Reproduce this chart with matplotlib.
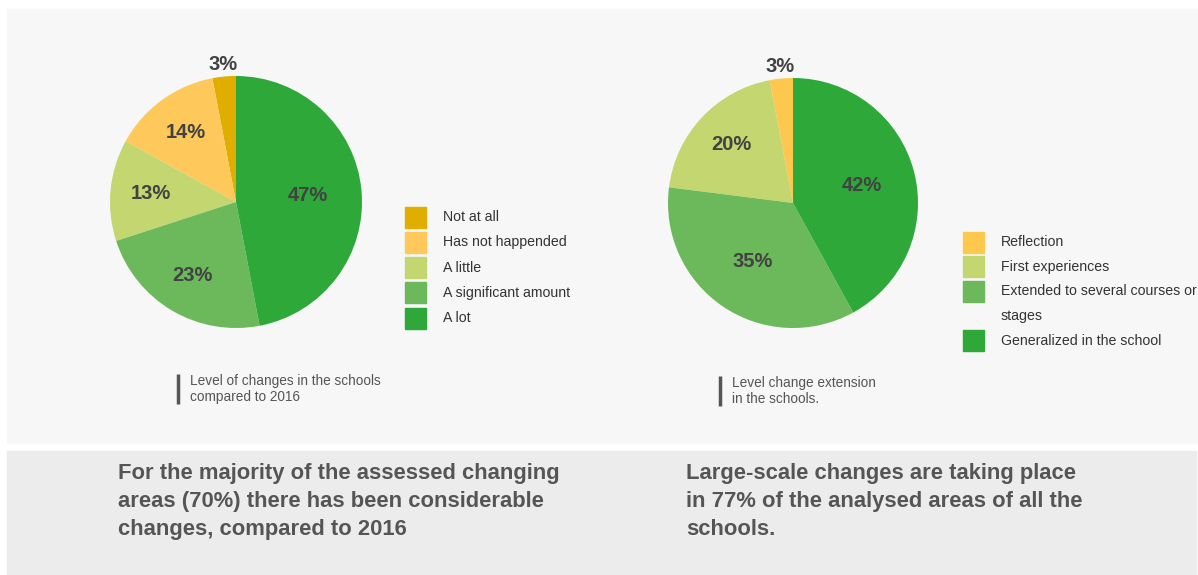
import matplotlib.pyplot as plt
from matplotlib.patches import Rectangle

plt.rcParams['font.family'] = ['Liberation Sans', 'DejaVu Sans']

# data
labels1 = ['Not at all', 'Has not happended', 'A little', 'A significant amount', 'A lot']
values1 = [3, 14, 13, 23, 47]
colors1 = ['#dfae00', '#fec85a', '#c3d66f', '#6cb95c', '#2fa83a']

labels2 = ['Reflection', 'First experiences', 'Extended to several courses or\nstages',
           'Generalized in the school']
values2 = [3, 20, 35, 42]
colors2 = ['#fec84e', '#c3d66f', '#6cb95c', '#2fa83a']

caption1 = 'Level of changes in the schools\ncompared to 2016'
caption2 = 'Level change extension\nin the schools.'
note1 = ('For the majority of the assessed changing\n'
         'areas (70%) there has been considerable\n'
         'changes, compared to 2016')
note2 = ('Large-scale changes are taking place\n'
         'in 77% of the analysed areas of all the\n'
         'schools.')

W, H = 1198, 575
fig = plt.figure(figsize=(W / 100, H / 100), dpi=100)
fig.patch.set_facecolor('white')

bg = fig.add_axes([0, 0, 1, 1])
bg.set_xlim(0, W)
bg.set_ylim(H, 0)
bg.axis('off')
bg.add_patch(Rectangle((7, 9), W - 7, 434, color='#f7f7f7', zorder=0))
bg.add_patch(Rectangle((7, 451), W - 9, H - 451, color='#ececec', zorder=0))

PD = 0.68


def draw_pie(cx, cy, r, values, colors):
    ax = fig.add_axes([(cx - r) / W, 1 - (cy + r) / H, 2 * r / W, 2 * r / H])
    wedges, texts, autotexts = ax.pie(values, colors=colors, startangle=90, counterclock=True,
                                      autopct='%d%%', pctdistance=PD,
                                      wedgeprops=dict(linewidth=0),
                                      textprops=dict(fontsize=14.5, fontweight='bold', color='#424242'))
    for v, t in zip(values, autotexts):
        x, y = t.get_position()
        if v < 5:
            t.set_position((x / PD * 1.1, y / PD * 1.1))
        elif v > 30:
            t.set_position((x / PD * 0.57, y / PD * 0.57))
        t.set_clip_on(False)
    ax.set_xlim(-1, 1)
    ax.set_ylim(-1, 1)
    ax.set_aspect('equal')
    ax.axis('off')
    return ax


def draw_legend(x, y0, pitch, sq, labels, colors):
    row = 0
    for lab, col in zip(labels, colors):
        lines = lab.split('\n')
        yc = y0 + row * pitch
        bg.add_patch(Rectangle((x, yc - sq / 2), sq, sq, color=col))
        for k, ln in enumerate(lines):
            bg.text(x + sq + 17, yc + k * pitch, ln, fontsize=10.2, color='#333333', va='center')
        row += len(lines)


def draw_caption(x, y, text):
    bg.plot([x, x], [y, y + 30], color='#555555', lw=2.5, solid_capstyle='butt')
    bg.text(x + 12, y, text, fontsize=9.8, color='#555555', va='top', linespacing=1.22)


draw_pie(236, 202, 126, values1, colors1)
draw_pie(793, 203, 125, values2, colors2)

draw_legend(405, 217, 25.3, 21, labels1, colors1)
draw_legend(963, 242, 24.7, 21, labels2, colors2)

draw_caption(178, 374, caption1)
draw_caption(720, 376, caption2)

bg.text(118, 463, note1, fontsize=15.8, fontweight='bold', color='#555555', va='top', linespacing=1.45)
bg.text(686, 463, note2, fontsize=15.8, fontweight='bold', color='#555555', va='top', linespacing=1.45)

fig.savefig('out.png', dpi=100)
